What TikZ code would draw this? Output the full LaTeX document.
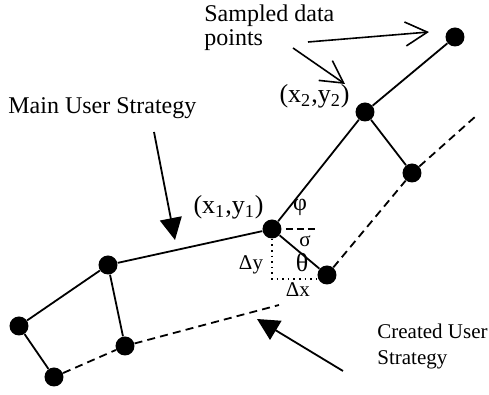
\documentclass[tikz,border=0pt]{standalone}
\usepackage{fontspec}
\setmainfont{Liberation Serif}
\usetikzlibrary{arrows.meta}

\begin{document}
\begin{tikzpicture}[x=0.5pt,y=-0.5pt,font=\fontsize{12}{12}\selectfont,
    dot/.style={circle,fill,inner sep=0pt,minimum size=9.5pt},
    seg/.style={line width=0.9pt},
    made/.style={line width=0.9pt,dash pattern=on 4pt off 2.6pt},
    lbl/.style={anchor=base west,inner sep=0pt},
    small/.style={font=\fontsize{10.5}{10.5}\selectfont},
    fillarrow/.style={line width=0.9pt,-{Triangle[length=11pt,width=11pt]}},
    openarrow/.style={line width=0.8pt,-{Straight Barb[length=11pt,width=12pt]}}]
  \useasboundingbox (0,0) rectangle (489,395);
  % sampled points (main) and created points
  \foreach \name/\x/\y in {pl1/19/326,pl2/108/265,p1/272/229,p2/365/112,pt/455/37,
                           cl1/54/377,cl2/125/346,c1/327/275,c2/412/173}
    \node[dot] (\name) at (\x,\y) {};
  \draw[seg] (pl1) -- (pl2) -- (p1) -- (p2) -- (pt);
  \draw[seg] (pl1) -- (cl1) (pl2) -- (cl2) (p1) -- (c1) (p2) -- (c2);
  \coordinate (cend1) at (279,305);
  \coordinate (cend2) at (476,116);
  \draw[made] (cl1) -- (cl2) -- (cend1);
  \draw[made] (c1) -- (c2) -- (cend2);
  % angle helpers at (x1,y1)
  \coordinate (sig) at (318,229);
  \coordinate (dycorner) at (272,279);
  \coordinate (dxend) at (321,279);
  \draw[line width=0.8pt,dash pattern=on 3.5pt off 2pt,shorten <=2pt] (p1) -- (sig);
  \draw[line width=0.8pt,dotted] (p1) -- (dycorner) -- (dxend);
  \node (phi) at (300,207) {φ};
  \node[small] (sigma) at (305,241) {σ};
  \node[font=\fontsize{13}{13}\selectfont] (theta) at (302,263) {θ};
  \node[small] (dy) at (251,265) {Δy};
  \node[small] (dx) at (298,290) {Δx};
  % labels
  \node[anchor=base east,inner sep=0pt,font=\fontsize{13}{13}\selectfont] (xy1) at (264,214)
    {(x\textsubscript{1},y\textsubscript{1})};
  \node[anchor=base east,inner sep=0pt,font=\fontsize{13}{13}\selectfont] (xy2) at (350,103)
    {(x\textsubscript{2},y\textsubscript{2})};
  \node[lbl] (samp) at (204,22) {Sampled data};
  \node[lbl] (samp2) at (204,46) {points};
  \node[lbl] (mainus) at (8,114) {Main User Strategy};
  \node[lbl,small] (creat) at (377,339) {Created User};
  \node[lbl,small] (creat2) at (377,365) {Strategy};
  % arrows
  \coordinate (s1a) at (308,42);  \coordinate (s1b) at (429,32);
  \coordinate (s2a) at (293,48);  \coordinate (s2b) at (345,84);
  \coordinate (ma) at (154,132);  \coordinate (mb) at (175,240);
  \coordinate (ca) at (343,371);  \coordinate (cb) at (257,319);
  \draw[openarrow] (s1a) -- (s1b);
  \draw[openarrow] (s2a) -- (s2b);
  \draw[fillarrow] (ma) -- (mb);
  \draw[fillarrow] (ca) -- (cb);
\end{tikzpicture}
\end{document}
